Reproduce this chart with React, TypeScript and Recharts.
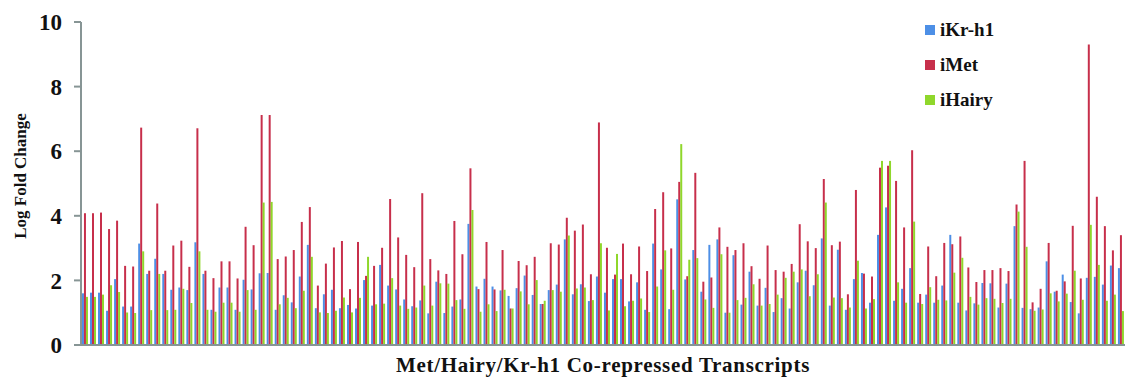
import { BarChart, Bar, XAxis, YAxis, Legend } from "recharts";

// values, one entry per transcript
const kr = [
  1.6, 1.62, 1.62, 1.06, 2.04, 1.19, 1.19, 3.14, 2.2, 2.67,
  2.2, 1.71, 1.78, 1.7, 3.18, 2.2, 1.09, 1.78, 1.78, 1.09,
  2.02, 1.72, 2.22, 2.23, 1.09, 1.54, 1.32, 2.12, 3.1, 1.14,
  1.57, 1.71, 1.14, 1.24, 1.13, 2.01, 1.22, 2.48, 1.84, 1.72,
  1.41, 1.2, 1.38, 0.98, 1.96, 0.99, 1.19, 1.41, 3.75, 1.81,
  2.05, 1.81, 1.69, 1.52, 1.76, 2.15, 1.55, 1.27, 1.7, 1.87,
  3.27, 1.57, 1.88, 1.36, 2.12, 1.62, 2.04, 2.04, 1.35, 1.94,
  1.09, 3.14, 2.34, 1.11, 4.51, 2.03, 2.94, 1.65, 3.1, 3.27,
  1.0, 2.78, 1.25, 2.27, 1.22, 1.77, 1.02, 1.45, 1.13, 1.94,
  2.3, 1.85, 3.3, 1.22, 2.95, 1.09, 2.04, 2.23, 1.31, 3.41,
  4.26, 1.37, 1.74, 2.38, 1.31, 1.56, 1.31, 1.84, 3.41, 1.31,
  1.07, 1.29, 1.92, 1.91, 1.16, 1.9, 3.68, 1.15, 1.11, 1.16,
  2.59, 1.65, 2.18, 1.33, 0.98, 2.08, 2.11, 1.87, 2.46, 2.38,
];

const met = [
  4.08, 4.08, 4.1, 3.59, 3.85, 2.45, 2.43, 6.73, 2.3, 4.38,
  2.3, 3.08, 3.23, 2.42, 6.71, 2.3, 2.07, 2.59, 2.59, 2.06,
  3.66, 3.09, 7.12, 7.12, 2.66, 2.74, 2.94, 3.81, 4.27, 1.84,
  2.52, 3.02, 3.22, 1.73, 3.19, 2.14, 2.45, 3.01, 4.52, 3.33,
  2.79, 2.41, 4.7, 2.66, 2.31, 2.2, 3.84, 2.81, 5.47, 1.73,
  3.19, 1.72, 2.94, 1.13, 2.6, 2.47, 2.73, 1.27, 3.15, 3.11,
  3.94, 3.54, 3.73, 2.19, 6.89, 3.01, 2.18, 3.14, 2.19, 3.05,
  2.29, 4.21, 4.73, 2.99, 5.05, 2.13, 5.33, 1.96, 2.09, 3.64,
  3.04, 2.94, 3.15, 2.44, 2.05, 3.08, 2.32, 2.27, 2.51, 3.74,
  3.21, 3.0, 5.14, 3.09, 3.2, 1.57, 4.8, 2.21, 2.12, 5.49,
  5.55, 5.08, 3.64, 6.03, 1.58, 3.05, 2.13, 3.16, 3.12, 3.36,
  2.4, 1.95, 2.32, 2.32, 2.38, 2.29, 4.35, 5.7, 1.32, 1.74,
  3.16, 1.68, 1.97, 3.69, 2.06, 9.3, 4.59, 3.68, 2.93, 3.4,
];

const hairy = [
  1.49, 1.49, 1.56, 1.85, 1.64, 1.01, 0.99, 2.9, 1.08, 2.2,
  1.08, 1.09, 1.74, 1.3, 2.9, 1.09, 1.03, 1.31, 1.31, 1.03,
  1.7, 1.09, 4.41, 4.43, 1.26, 1.46, 1.14, 1.68, 2.73, 1.01,
  0.99, 1.06, 1.47, 1.01, 1.46, 2.73, 1.26, 1.28, 2.07, 1.22,
  1.12, 1.16, 1.84, 1.22, 1.91, 1.9, 1.39, 1.12, 4.18, 1.03,
  1.26, 1.05, 1.71, 1.13, 1.66, 1.26, 2.01, 1.37, 1.7, 1.65,
  3.39, 1.75, 1.78, 1.39, 3.15, 1.07, 2.82, 1.2, 1.37, 1.44,
  1.02, 1.81, 2.93, 1.71, 6.22, 2.64, 2.69, 1.41, 1.15, 2.81,
  1.0, 1.39, 1.46, 1.88, 1.22, 1.27, 1.56, 2.08, 2.27, 2.34,
  1.51, 2.19, 4.41, 1.47, 1.45, 1.16, 2.61, 1.13, 1.42, 5.7,
  5.7, 1.94, 1.31, 3.82, 1.27, 1.79, 1.4, 1.38, 2.24, 2.7,
  1.49, 1.25, 1.45, 1.43, 1.3, 1.43, 4.13, 3.04, 1.06, 1.1,
  1.6, 1.35, 1.59, 2.3, 1.4, 3.72, 2.48, 1.37, 1.56, 1.05,
];

const transcripts = kr.map((_, i) => `T${i + 1}`);
const yTicks = [0, 2, 4, 6, 8, 10];
const seriesOrder = ["kr", "met", "hairy"];

const data = transcripts.map((name, i) => ({
  name,
  kr: kr[i],
  met: met[i],
  hairy: hairy[i],
}));

const FONT = '"Liberation Serif", "Times New Roman", serif';
const AXIS = "#879595";
const COLORS = { kr: "#4d8fe6", met: "#c72f4b", hairy: "#8fd72b" };

// eslint-disable-next-line @typescript-eslint/no-explicit-any
function LegendBox({ payload }: any) {
  const items = [...(payload ?? [])].sort(
    (a: any, b: any) =>
      seriesOrder.indexOf(a.dataKey) - seriesOrder.indexOf(b.dataKey)
  );
  return (
    <div style={{ fontFamily: FONT, fontWeight: "bold", fontSize: 19 }}>
      {items.map((p: any) => (
        <div
          key={p.value}
          style={{ display: "flex", alignItems: "center", height: 35 }}
        >
          <span
            style={{
              width: 10,
              height: 10,
              background: p.color,
              marginRight: 5,
            }}
          />
          <span style={{ color: "#111" }}>{p.value}</span>
        </div>
      ))}
    </div>
  );
}

export default function App() {
  return (
    <div style={{ position: "absolute", left: 0, top: 0, background: "#fff" }}>
      <BarChart
        width={1129}
        height={379}
        data={data}
        margin={{ top: 22, right: 4, bottom: 0, left: 0 }}
        barGap={0}
        barCategoryGap="12%"
      >
        <XAxis
          dataKey="name"
          tick={false}
          tickLine={false}
          height={34}
          axisLine={{ stroke: AXIS, strokeWidth: 2 }}
          label={({ viewBox }: any) => (
            <text
              x={viewBox.x + viewBox.width / 2}
              y={372}
              textAnchor="middle"
              fontFamily={FONT}
              fontWeight="bold"
              fontSize={21}
              letterSpacing={0.7}
              fill="#111"
            >
              Met/Hairy/Kr-h1 Co-repressed Transcripts
            </text>
          )}
        />
        <YAxis
          domain={[0, 10]}
          ticks={yTicks}
          width={81}
          tickSize={7}
          tickMargin={12}
          interval={0}
          axisLine={{ stroke: AXIS, strokeWidth: 2 }}
          tickLine={{ stroke: AXIS, strokeWidth: 2 }}
          tick={{
            fontFamily: FONT,
            fontWeight: "bold",
            fontSize: 23,
            fill: "#111",
          }}
          label={() => (
            <text
              x={20}
              y={176}
              transform="rotate(-90 20 176)"
              textAnchor="middle"
              dominantBaseline="central"
              fontFamily={FONT}
              fontWeight="bold"
              fontSize={17}
              fill="#111"
            >
              Log Fold Change
            </text>
          )}
        />
        <Legend
          layout="horizontal"
          verticalAlign="middle"
          align="center"
          content={LegendBox}
          wrapperStyle={{ top: 12, left: 925, width: 120 }}
        />
        <Bar dataKey="kr" name="iKr-h1" fill={COLORS.kr} isAnimationActive={false} />
        <Bar dataKey="met" name="iMet" fill={COLORS.met} isAnimationActive={false} />
        <Bar dataKey="hairy" name="iHairy" fill={COLORS.hairy} isAnimationActive={false} />
      </BarChart>
    </div>
  );
}
